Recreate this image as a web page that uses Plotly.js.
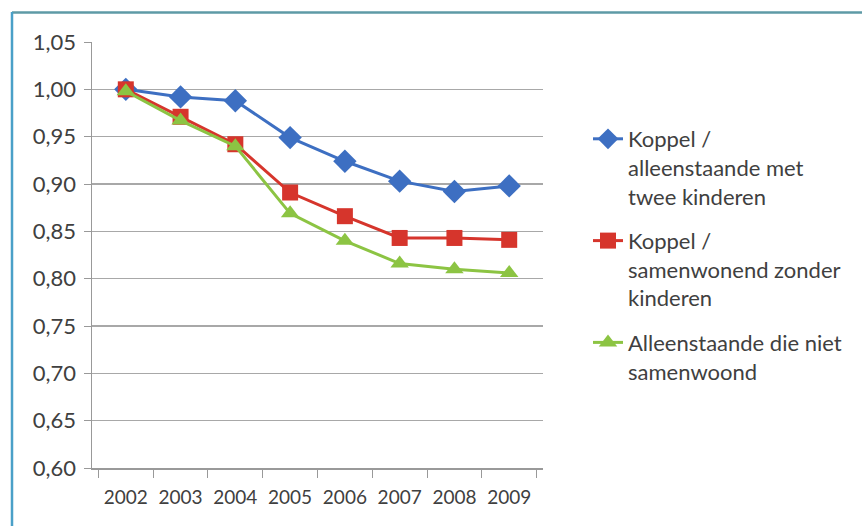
<!DOCTYPE html>
<html>
<head>
<meta charset="utf-8">
<script src="https://cdn.plot.ly/plotly-3.0.1.min.js"></script>
<style>html,body{margin:0;padding:0;background:#fff;}#chart{width:862px;height:526px;}</style>
</head>
<body>
<div id="chart"></div>
<script>
var years = ['2002','2003','2004','2005','2006','2007','2008','2009'];
var seriesNames = ['Koppel /<br>alleenstaande met<br>twee kinderen',
                   'Koppel /<br>samenwonend zonder<br>kinderen',
                   'Alleenstaande die niet<br>samenwoond'];
var blueValues  = [1.000, 0.992, 0.988, 0.949, 0.924, 0.903, 0.892, 0.898];
var redValues   = [1.000, 0.971, 0.942, 0.891, 0.866, 0.843, 0.843, 0.841];
var greenValues = [0.998, 0.967, 0.940, 0.869, 0.840, 0.816, 0.810, 0.806];
var yTicks = [0.60, 0.65, 0.70, 0.75, 0.80, 0.85, 0.90, 0.95, 1.00, 1.05];

var FONT = 'Lato, "Open Sans", sans-serif';
function tr(vals, name, color, symbol, size, grp) {
  return {x: years, y: vals, name: name, type: 'scatter', mode: 'lines+markers',
    legendgroup: grp,
    line: {color: color, width: 3},
    marker: {color: color, symbol: symbol, size: size}};
}
var data = [
  tr(blueValues, seriesNames[0], '#3d6fc2', 'diamond', 18, 'a'),
  tr(redValues, seriesNames[1], '#d6352c', 'square', 16, 'b'),
  tr(greenValues, seriesNames[2], '#8cc443', 'triangle-up', 16, 'c')
];
var layout = {
  width: 862, height: 526,
  margin: {l: 92, r: 319, t: 42, b: 58, pad: 0},
  paper_bgcolor: '#fff', plot_bgcolor: '#fff',
  separators: ',.',
  showlegend: true,
  font: {family: FONT, size: 22, color: '#404040'},
  xaxis: {type: 'category', tickson: 'boundaries', ticks: 'outside', ticklen: 8,
    tickangle: 0,
    tickcolor: '#999', showline: true, linecolor: '#999', linewidth: 1.5,
    showgrid: false, zeroline: false, fixedrange: true, ticklabelstandoff: 12,
    tickfont: {family: FONT, size: 19, color: '#404040'}},
  yaxis: {range: [0.60, 1.05], tickvals: yTicks, tickformat: '.2f',
    ticks: 'outside', ticklen: 7, tickcolor: '#999', ticklabelstandoff: 3,
    showline: true, linecolor: '#999', linewidth: 1.5,
    showgrid: true, gridcolor: '#a8a8a8', gridwidth: 1.5, zeroline: false,
    tickfont: {family: FONT, size: 22, color: '#404040'}},
  legend: {x: (588-92)/451, y: 1 - (118-42)/426, xanchor: 'left', yanchor: 'top',
    valign: 'top', traceorder: 'grouped',
    font: {family: FONT, size: 22, color: '#404040'},
    tracegroupgap: 13, bgcolor: 'rgba(0,0,0,0)'},
  shapes: [
    {type: 'line', xref: 'paper', yref: 'paper', x0: (12-92)/451, x1: (862-92)/451,
     y0: 1 + (42-12.5)/426, y1: 1 + (42-12.5)/426, line: {color: '#5e9aa6', width: 2.5}},
    {type: 'line', xref: 'paper', yref: 'paper', x0: (12-92)/451, x1: (12-92)/451,
     y0: 1 + (42-12)/426, y1: -(526-468)/426, line: {color: '#4aa0c8', width: 2.5}}
  ]
};
Plotly.newPlot('chart', data, layout, {displayModeBar: false, staticPlot: true});
</script>
</body>
</html>
